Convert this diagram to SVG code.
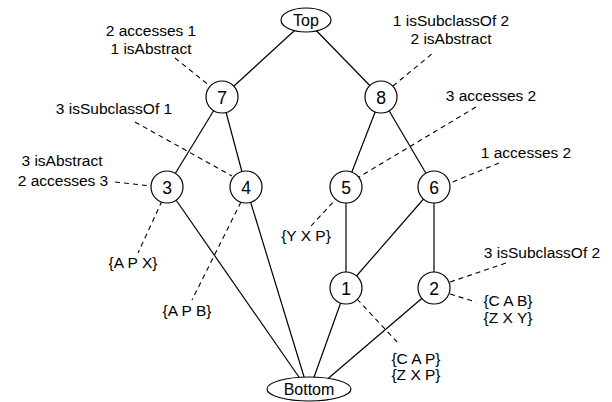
<svg xmlns="http://www.w3.org/2000/svg" width="612" height="402" viewBox="0 0 612 402">
<style>
.edge{stroke:#000;stroke-width:1.2;fill:none}
.dash{stroke:#000;stroke-width:1.1;fill:none;stroke-dasharray:5,4}
.node{fill:#fff;stroke:#000;stroke-width:1.2}
text{font-family:"Liberation Sans",Arial,sans-serif;font-size:15.5px;fill:#000}
.c{text-anchor:middle}
.n{font-size:17.5px;text-anchor:middle}
.t{font-size:16px;text-anchor:middle}
</style>
<rect width="612" height="402" fill="#fff"/>
<g id="connectors">
<line class="edge" x1="306" y1="20" x2="222" y2="97"/>
<line class="edge" x1="306" y1="20" x2="381" y2="97"/>
<line class="edge" x1="222" y1="97" x2="167" y2="187"/>
<line class="edge" x1="222" y1="97" x2="246" y2="187"/>
<line class="edge" x1="381" y1="97" x2="346" y2="187"/>
<line class="edge" x1="381" y1="97" x2="434" y2="187"/>
<line class="edge" x1="167" y1="187" x2="301" y2="380"/>
<line class="edge" x1="246" y1="187" x2="305" y2="380"/>
<line class="edge" x1="346" y1="187" x2="346" y2="288"/>
<line class="edge" x1="434" y1="187" x2="346" y2="288"/>
<line class="edge" x1="434" y1="187" x2="434" y2="288"/>
<line class="edge" x1="346" y1="288" x2="313" y2="380"/>
<line class="edge" x1="434" y1="288" x2="324" y2="382"/>
<line class="dash" x1="175" y1="58" x2="210" y2="86"/>
<line class="dash" x1="135" y1="122" x2="232" y2="176"/>
<line class="dash" x1="115" y1="182" x2="151" y2="186"/>
<line class="dash" x1="393" y1="86" x2="433" y2="53"/>
<line class="dash" x1="476" y1="107" x2="359" y2="177"/>
<line class="dash" x1="499" y1="163" x2="450" y2="183"/>
<line class="dash" x1="162" y1="201" x2="138" y2="253"/>
<line class="dash" x1="241" y1="202" x2="192" y2="300"/>
<line class="dash" x1="311" y1="226" x2="336" y2="199"/>
<line class="dash" x1="357" y1="299" x2="398" y2="343"/>
<line class="dash" x1="450" y1="282" x2="509" y2="262"/>
<line class="dash" x1="450" y1="294" x2="476" y2="302"/>
</g>
<g id="Top"><ellipse class="node" cx="306" cy="20" rx="25" ry="12"/><text class="t" x="306" y="26">Top</text></g>
<g id="Bottom"><ellipse class="node" cx="309" cy="389" rx="42" ry="12"/><text class="t" x="309" y="395">Bottom</text></g>
<g id="n7"><circle class="node" cx="222" cy="97" r="16"/><text class="n" x="222" y="103.5">7</text></g>
<g id="n8"><circle class="node" cx="381" cy="97" r="16"/><text class="n" x="381" y="103.5">8</text></g>
<g id="n3"><circle class="node" cx="167" cy="187" r="16"/><text class="n" x="167" y="193.5">3</text></g>
<g id="n4"><circle class="node" cx="246" cy="187" r="16"/><text class="n" x="246" y="193.5">4</text></g>
<g id="n5"><circle class="node" cx="346" cy="187" r="16"/><text class="n" x="346" y="193.5">5</text></g>
<g id="n6"><circle class="node" cx="434" cy="187" r="16"/><text class="n" x="434" y="193.5">6</text></g>
<g id="n1"><circle class="node" cx="346" cy="288" r="16"/><text class="n" x="346" y="294.5">1</text></g>
<g id="n2"><circle class="node" cx="434" cy="288" r="16"/><text class="n" x="434" y="294.5">2</text></g>
<g id="labels">
<text class="c" x="151" y="36">2 accesses 1</text>
<text class="c" x="151" y="54">1 isAbstract</text>
<text class="c" x="451" y="26">1 isSubclassOf 2</text>
<text class="c" x="451" y="44">2 isAbstract</text>
<text class="c" x="114" y="114">3 isSubclassOf 1</text>
<text class="c" x="491" y="101">3 accesses 2</text>
<text class="c" x="62" y="166">3 isAbstract</text>
<text class="c" x="63" y="186">2 accesses 3</text>
<text class="c" x="526" y="158">1 accesses 2</text>
<text class="c" x="133" y="268">{A P X}</text>
<text class="c" x="187" y="316">{A P B}</text>
<text class="c" x="306" y="241">{Y X P}</text>
<text class="c" x="542" y="258">3 isSubclassOf 2</text>
<text class="c" x="508" y="306">{C A B}</text>
<text class="c" x="508" y="323">{Z X Y}</text>
<text class="c" x="416" y="364">{C A P}</text>
<text class="c" x="416" y="380">{Z X P}</text>
</g>
</svg>
